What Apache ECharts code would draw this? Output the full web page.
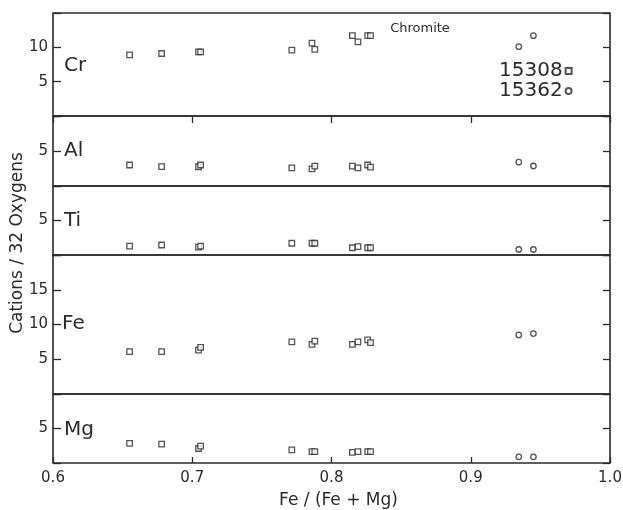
<!DOCTYPE html>
<html>
<head>
<meta charset="utf-8">
<script src="https://cdn.jsdelivr.net/npm/echarts@6/dist/echarts.min.js"></script>
<style>html,body{margin:0;padding:0;background:#fff}#c{width:623px;height:510px}</style>
</head>
<body>
<div id="c"></div>
<script>
// Fe/(Fe+Mg) for each analysis
var x15308 = [0.655, 0.678, 0.7045, 0.706, 0.7715, 0.786, 0.788, 0.815, 0.819, 0.826, 0.828];
var x15362 = [0.9345, 0.945];

// Cations per 32 oxygens
var cr15308 = [8.9, 9.1, 9.35, 9.35, 9.6, 10.6, 9.7, 11.7, 10.8, 11.7, 11.7];
var cr15362 = [10.1, 11.7];
var al15308 = [3.0, 2.76, 2.75, 3.0, 2.6, 2.45, 2.85, 2.85, 2.6, 3.0, 2.7];
var al15362 = [3.4, 2.86];
var ti15308 = [1.3, 1.45, 1.15, 1.3, 1.7, 1.7, 1.7, 1.05, 1.2, 1.05, 1.05];
var ti15362 = [0.8, 0.8];
var fe15308 = [6.1, 6.1, 6.3, 6.7, 7.5, 7.15, 7.6, 7.15, 7.5, 7.8, 7.4];
var fe15362 = [8.5, 8.7];
var mg15308 = [2.85, 2.75, 2.1, 2.45, 1.9, 1.65, 1.65, 1.55, 1.65, 1.65, 1.65];
var mg15362 = [0.9, 0.9];

var elements = ['Cr', 'Al', 'Ti', 'Fe', 'Mg'];
var yMax = [15, 10, 10, 20, 10];
var xTicks = [0.6, 0.7, 0.8, 0.9, 1.0];
var sampleNames = ['15308', '15362'];
var dataA = [cr15308, al15308, ti15308, fe15308, mg15308];
var dataB = [cr15362, al15362, ti15362, fe15362, mg15362];

var FONT = 'DejaVu Sans';
var INK = '#2b2b2b';
var panels = [
  {top: 13, height: 103},
  {top: 116, height: 70},
  {top: 186, height: 69},
  {top: 255, height: 139},
  {top: 394, height: 69}
];

function zip(xs, ys) { return xs.map(function (x, i) { return [x, ys[i]]; }); }

var grids = [], xAxes = [], yAxes = [], series = [];
panels.forEach(function (p, i) {
  grids.push({left: 53, right: 13, top: p.top, height: p.height, show: true,
    outerBoundsMode: 'none', containLabel: false,
    borderColor: INK, borderWidth: 1.6, backgroundColor: 'transparent'});
  var last = (i === panels.length - 1);
  xAxes.push({
    type: 'value', gridIndex: i, min: 0.6, max: 1.0, interval: 0.1,
    position: 'bottom',
    axisLine: {show: false}, splitLine: {show: false},
    axisTick: {show: last, inside: true, length: 6, lineStyle: {color: INK, width: 1.3}},
    axisLabel: {show: last, margin: 8, fontFamily: FONT, fontSize: 15, color: INK,
      formatter: function (v) { return v.toFixed(1); }},
    name: last ? 'Fe / (Fe + Mg)' : '', nameLocation: 'middle', nameGap: 29,
    nameTextStyle: {fontFamily: FONT, fontSize: 17, color: INK, padding: [0, 0, 0, 14]}
  });
  var fmt = (function (mx) { return function (v) { return (v === 0 || v === mx) ? '' : String(v); }; })(yMax[i]);
  yAxes.push({
    type: 'value', gridIndex: i, min: 0, max: yMax[i], interval: 5, position: 'left',
    axisLine: {show: false}, splitLine: {show: false},
    axisTick: {show: true, inside: true, length: 8, lineStyle: {color: INK, width: 1.3}},
    axisLabel: {show: true, margin: 5, fontFamily: FONT, fontSize: 15, color: INK, formatter: fmt}
  });
  yAxes.push({
    type: 'value', gridIndex: i, min: 0, max: yMax[i], interval: 5, position: 'right',
    axisLine: {show: false}, splitLine: {show: false},
    axisTick: {show: true, inside: true, length: 7, lineStyle: {color: INK, width: 1.3}},
    axisLabel: {show: false}
  });
  series.push({
    type: 'scatter', name: sampleNames[0], xAxisIndex: i, yAxisIndex: 2 * i,
    data: zip(x15308, dataA[i]), symbol: 'rect', symbolSize: 5.5,
    itemStyle: {color: '#fff', borderColor: INK, borderWidth: 1.3}, silent: true
  });
  series.push({
    type: 'scatter', name: sampleNames[1], xAxisIndex: i, yAxisIndex: 2 * i,
    data: zip(x15362, dataB[i]), symbol: 'circle', symbolSize: 5.5,
    itemStyle: {color: '#fff', borderColor: INK, borderWidth: 1.3}, silent: true
  });
});
// top tick marks on the uppermost panel
xAxes.push({
  type: 'value', gridIndex: 0, min: 0.6, max: 1.0, interval: 0.1, position: 'top',
  axisLine: {show: false}, splitLine: {show: false}, axisLabel: {show: false},
  axisTick: {show: true, inside: true, length: 7, lineStyle: {color: INK, width: 1.3}}
});

var labelPos = [{x: 64, y: 66}, {x: 64, y: 151}, {x: 64, y: 221}, {x: 62, y: 324}, {x: 64, y: 430}];
var graphics = elements.map(function (el, i) {
  return {type: 'text', x: labelPos[i].x, y: labelPos[i].y,
    style: {text: el, fontFamily: FONT, fontSize: 20, fill: INK, align: 'left', verticalAlign: 'middle'}};
});
graphics.push({type: 'text', x: 420, y: 29,
  style: {text: 'Chromite', fontFamily: FONT, fontSize: 13, fill: INK, align: 'center', verticalAlign: 'middle'}});
graphics.push({type: 'text', x: 18, y: 243, rotation: Math.PI / 2,
  style: {text: 'Cations / 32 Oxygens', fontFamily: FONT, fontSize: 17, fill: INK, align: 'center', verticalAlign: 'middle'}});

var chart = echarts.init(document.getElementById('c'), null, {renderer: 'canvas'});
chart.setOption({
  animation: false,
  backgroundColor: '#fff',
  grid: grids,
  xAxis: xAxes,
  yAxis: yAxes,
  series: series,
  legend: {
    data: sampleNames, orient: 'vertical', left: 494, top: 56, align: 'right',
    itemWidth: 6, itemHeight: 6, itemGap: 0, selectedMode: false,
    textStyle: {fontFamily: FONT, fontSize: 20, color: INK, lineHeight: 19, padding: [0, -2, 0, 0]}
  },
  graphic: graphics
});
</script>
</body>
</html>
